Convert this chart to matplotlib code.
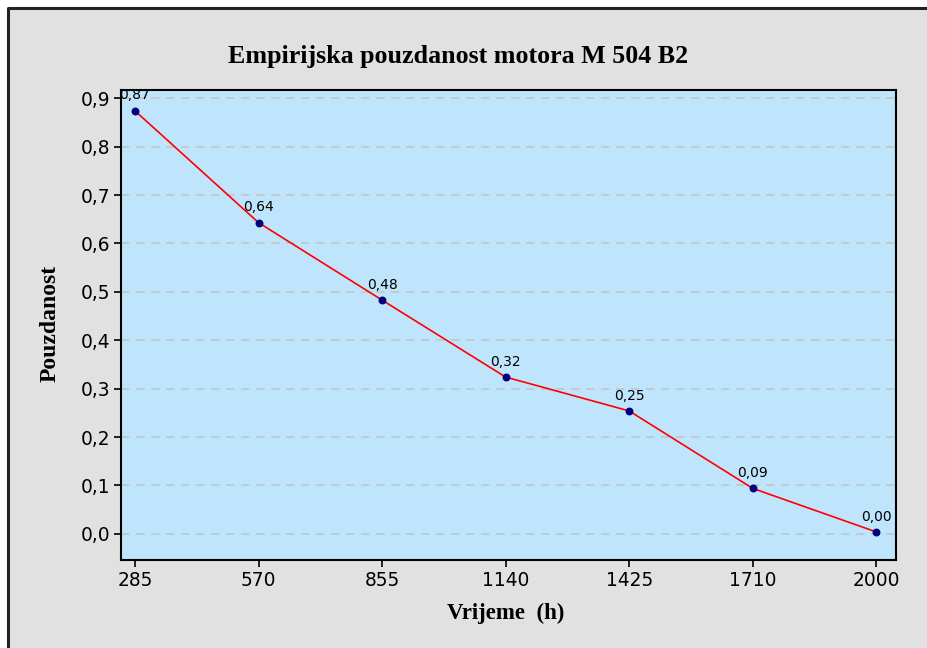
import matplotlib
matplotlib.use("Agg")
import matplotlib.pyplot as plt
from matplotlib.patches import Rectangle
from matplotlib.lines import Line2D
from matplotlib.ticker import FuncFormatter

times = ["285", "570", "855", "1140", "1425", "1710", "2000"]
reliability = [0.874, 0.643, 0.483, 0.324, 0.254, 0.094, 0.004]
yticks = [0.0, 0.1, 0.2, 0.3, 0.4, 0.5, 0.6, 0.7, 0.8, 0.9]

W, H = 928, 648
fig = plt.figure(figsize=(W / 100, H / 100), dpi=100, facecolor="white")

bx, by = 8 / W, 8 / H
fig.patches.append(Rectangle((bx, 0), 1 - bx, 1 - by, transform=fig.transFigure,
                             facecolor="#e1e1e1", edgecolor="none", zorder=-10))
fig.lines.append(Line2D([bx, bx, 1], [0, 1 - by, 1 - by], transform=fig.transFigure,
                        color="#222222", lw=2.2))

ax = fig.add_axes([121 / W, 1 - 560 / H, (896 - 121) / W, (560 - 90) / H])
ax.set_facecolor("#bfe5fd")

x = list(range(len(times)))
ax.plot(x, reliability, color="#ff0000", lw=1.2, zorder=3)
ax.scatter(x, reliability, s=22, color="#00007f", zorder=4)
for xi, v in zip(x, reliability):
    ax.annotate(f"{v:.2f}".replace(".", ","), (xi, v), xytext=(0, 6),
                textcoords="offset points", ha="center", va="bottom",
                fontsize=10, color="black", zorder=5)

ax.set_xlim(-0.113, 6.16)
ax.set_ylim(-0.054, 0.917)
ax.set_xticks(x)
ax.set_xticklabels(times)
ax.set_yticks(yticks)
ax.yaxis.set_major_formatter(FuncFormatter(lambda v, p: f"{v:.1f}".replace(".", ",")))
ax.tick_params(axis="both", labelsize=13.4, length=5, width=1.2, direction="out",
               colors="black", pad=3)
for s in ax.spines.values():
    s.set_linewidth(1.5)
    s.set_color("black")
ax.yaxis.grid(True, color="#c4c4c4", ls=(0, (5, 4)), lw=1.2)
ax.set_axisbelow(True)

fig.text(458 / W, 1 - 56 / H, "Empirijska pouzdanost motora M 504 B2",
         ha="center", va="center", fontsize=18.7, fontweight="bold",
         family="Liberation Serif")
fig.text(506 / W, 1 - 613 / H, "Vrijeme  (h)", ha="center", va="center",
         fontsize=16.5, fontweight="bold", family="Liberation Serif")
fig.text(50 / W, 1 - 323 / H, "Pouzdanost", ha="center", va="center", rotation=90,
         fontsize=17, fontweight="bold", family="Liberation Serif")

fig.savefig("out.png", dpi=100, facecolor=fig.get_facecolor())
